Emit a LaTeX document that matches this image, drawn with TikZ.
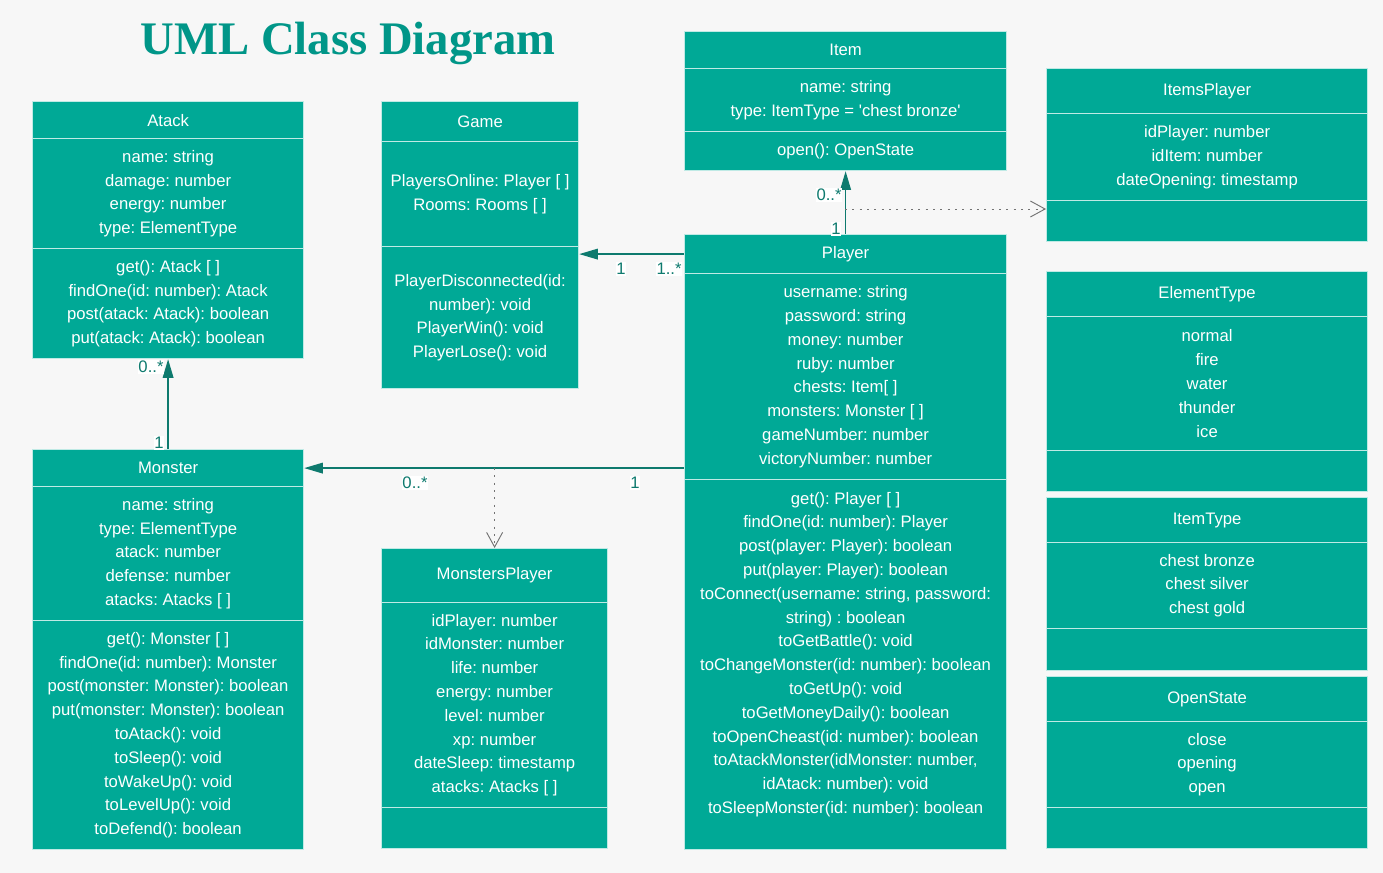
\documentclass[tikz,border=0pt]{standalone}
\usepackage{fontspec}
\setmainfont{Liberation Sans}
\newfontfamily\titlefont{Liberation Serif}
\usepackage{tikz}
\usetikzlibrary{arrows.meta}
\definecolor{colorBG}{RGB}{247,247,247}
\definecolor{colorCls}{RGB}{0,169,150}
\colorlet{colorSep}{colorCls!25!white}
\definecolor{colorAssoc}{RGB}{14,122,110}
\definecolor{colorTitle}{RGB}{0,150,136}
\colorlet{colorDep}{gray!90!black}
\tikzset{
   cls/.style={rectangle,fill=colorCls,draw=colorSep,line width=0.9pt,inner sep=0pt,
     text=white,align=center,font=\fontsize{12.5}{17.85}\selectfont\frenchspacing},
   cbox/.style 2 args={anchor=north west,minimum width=#1*0.75pt,minimum height=#2*0.75pt},
   assoc/.style={-{Triangle[length=14pt,width=8pt]},color=colorAssoc,line width=1pt},
   dep/.style={-{Straight Barb[length=11pt,width=12pt]},color=colorDep,line width=0.7pt,
     dash pattern=on 1.5pt off 4pt},
   mult/.style={fill=white,inner sep=0.6pt,text=colorAssoc,font=\fontsize{12.5}{14}\selectfont},
}

\begin{document}
\begin{tikzpicture}[x=0.75pt, y=-0.75pt]
  \fill[colorBG] (0,0) rectangle (1383,873);
  \useasboundingbox (0,0) rectangle (1383,873);

  \node[anchor=base, text=colorTitle, font=\titlefont\bfseries\fontsize{35}{40}\selectfont]
    (title) at (348,55) {UML Class Diagram};

  \node[cls, cbox={271}{37}]  (atackH) at (32,101) {Atack};
  \node[cls, cbox={271}{110}] (atackA) at (32,138) {name: string\\damage: number\\energy: number\\type: ElementType};
  \node[cls, cbox={271}{110}] (atackM) at (32,248) {get(): Atack [ ]\\findOne(id: number): Atack\\post(atack: Atack): boolean\\put(atack: Atack): boolean};

  \node[cls, cbox={197}{40}]  (gameH) at (381,101) {Game};
  \node[cls, cbox={197}{105}] (gameA) at (381,141) {PlayersOnline: Player [ ]\\Rooms: Rooms [ ]};
  \node[cls, cbox={197}{142}] (gameM) at (381,246) {PlayerDisconnected(id:\\number): void\\PlayerWin(): void\\PlayerLose(): void};

  \node[cls, cbox={322}{37}] (itemH) at (684,31)  {Item};
  \node[cls, cbox={322}{63}] (itemA) at (684,68)  {name: string\\type: ItemType = \textquotesingle chest bronze\textquotesingle};
  \node[cls, cbox={322}{39}] (itemM) at (684,131) {open(): OpenState};

  \node[cls, cbox={321}{45}] (itemsPlayerH) at (1046,68)  {ItemsPlayer};
  \node[cls, cbox={321}{87}] (itemsPlayerA) at (1046,113) {idPlayer: number\\idItem: number\\dateOpening: timestamp};
  \node[cls, cbox={321}{41}] (itemsPlayerM) at (1046,200) {};

  \node[cls, cbox={322}{39}]  (playerH) at (684,234) {Player};
  \node[cls, cbox={322}{206}] (playerA) at (684,273) {username: string\\password: string\\money: number\\ruby: number\\chests: Item[ ]\\monsters: Monster [ ]\\gameNumber: number\\victoryNumber: number};
  \node[cls, cbox={322}{370}] (playerM) at (684,479) {get(): Player [ ]\\findOne(id: number): Player\\post(player: Player): boolean\\put(player: Player): boolean\\toConnect(username: string, password:\\string) : boolean\\toGetBattle(): void\\toChangeMonster(id: number): boolean\\toGetUp(): void\\toGetMoneyDaily(): boolean\\toOpenCheast(id: number): boolean\\toAtackMonster(idMonster: number,\\idAtack: number): void\\toSleepMonster(id: number): boolean\\~};

  \node[cls, cbox={321}{45}]  (elementTypeH) at (1046,271) {ElementType};
  \node[cls, cbox={321}{134}] (elementTypeA) at (1046,316) {normal\\fire\\water\\thunder\\ice};
  \node[cls, cbox={321}{41}]  (elementTypeM) at (1046,450) {};

  \node[cls, cbox={321}{45}] (itemTypeH) at (1046,497) {ItemType};
  \node[cls, cbox={321}{86}] (itemTypeA) at (1046,542) {chest bronze\\chest silver\\chest gold};
  \node[cls, cbox={321}{42}] (itemTypeM) at (1046,628) {};

  \node[cls, cbox={321}{45}] (openStateH) at (1046,676) {OpenState};
  \node[cls, cbox={321}{86}] (openStateA) at (1046,721) {close\\opening\\open};
  \node[cls, cbox={321}{41}] (openStateM) at (1046,807) {};

  \node[cls, cbox={271}{37}]  (monsterH) at (32,449) {Monster};
  \node[cls, cbox={271}{134}] (monsterA) at (32,486) {name: string\\type: ElementType\\atack: number\\defense: number\\atacks: Atacks [ ]};
  \node[cls, cbox={271}{229}] (monsterM) at (32,620) {get(): Monster [ ]\\findOne(id: number): Monster\\post(monster: Monster): boolean\\put(monster: Monster): boolean\\toAtack(): void\\toSleep(): void\\toWakeUp(): void\\toLevelUp(): void\\toDefend(): boolean};

  \node[cls, cbox={226}{54}]  (monstersPlayerH) at (381,548) {MonstersPlayer};
  \node[cls, cbox={226}{205}] (monstersPlayerA) at (381,602) {idPlayer: number\\idMonster: number\\life: number\\energy: number\\level: number\\xp: number\\dateSleep: timestamp\\atacks: Atacks [ ]};
  \node[cls, cbox={226}{41}]  (monstersPlayerM) at (381,807) {};

  \draw[assoc] (playerH.west) -- (playerH.west -| gameM.east);
  \draw[assoc] (playerH.north) -- (itemM.south);
  \draw[assoc] (monsterH.north) -- (atackM.south);
  \draw[assoc] (playerA.west |- monsterH.east) -- (monsterH.east);

  \coordinate (itemLink) at (845,209);
  \coordinate (monsterLink) at (monstersPlayerH.north |- monsterH.east);
  \draw[dep] (itemLink) -- (itemLink -| itemsPlayerM.west);
  \draw[dep] (monsterLink) -- (monstersPlayerH.north);

  \node[mult] (gameOne)     at (621,269) {1};
  \node[mult] (gameMany)    at (669,269) {1..*};
  \node[mult] (itemMany)    at (829,195) {0..*};
  \node[mult] (itemOne)     at (836,229) {1};
  \node[mult] (atackMany)   at (151,367) {0..*};
  \node[mult] (atackOne)    at (159,443) {1};
  \node[mult] (monsterMany) at (415,483) {0..*};
  \node[mult] (monsterOne)  at (635,483) {1};
\end{tikzpicture}
\end{document}
